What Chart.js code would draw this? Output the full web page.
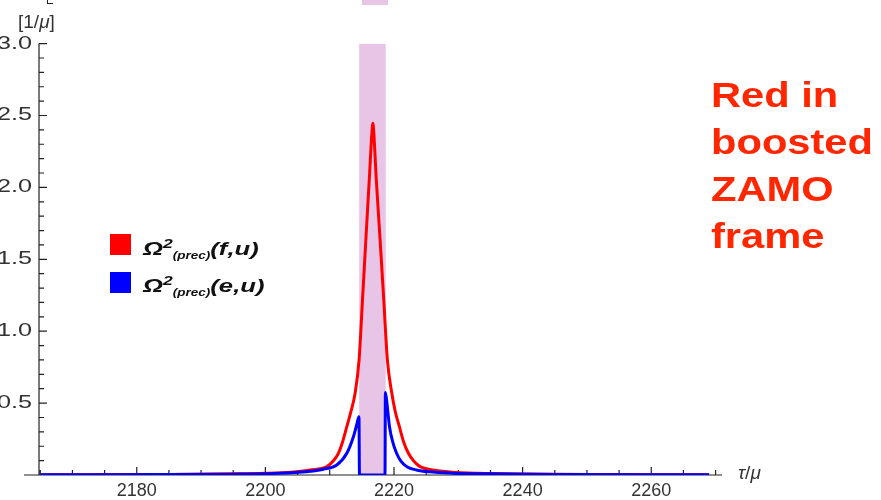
<!DOCTYPE html>
<html>
<head>
<meta charset="utf-8">
<script src="https://cdn.jsdelivr.net/npm/chart.js@4.4.1/dist/chart.umd.min.js"></script>
<style>
  body { margin: 0; background: #fff; }
  #wrap {
    position: relative; width: 881px; height: 500px; overflow: hidden;
    font-family: "Liberation Sans", Arial, sans-serif;
  }
  #precChart { position: absolute; left: 0; top: 0; }
  .abs { position: absolute; white-space: nowrap; }
  .swatch { position: absolute; width: 21px; height: 21px; }
  .legtext {
    position: absolute; font-size: 19px; line-height: 19px; font-weight: bold;
    font-style: italic; color: #111; transform: scaleX(1.35); transform-origin: left center;
  }
  .legtext .sup { font-size: 13px; vertical-align: 7px; }
  .legtext .sub { font-size: 10px; vertical-align: -4px; }
  #note {
    position: absolute; left: 711px; top: 71px; font-size: 35px; line-height: 47px;
    font-weight: bold; color: rgb(255, 38, 0); transform: scaleX(1.19); transform-origin: left top;
  }
</style>
</head>
<body>
<div id="wrap">
  <canvas id="precChart" width="881" height="500"></canvas>

  <div class="abs" style="left:362px; top:0; width:26px; height:5px; background:rgb(232,196,230);"></div>
  <div class="abs" style="left:47px; top:0; width:5px; height:3px; border-left:1px solid #222; border-bottom:1px solid #222;"></div>

  <div class="abs" style="left:18px; top:11px; font-size:19px; color:#333;">[1/<i>μ</i>]</div>
  <div class="abs" style="left:738px; top:462px; font-size:19px; color:#333;"><i>τ</i>/<i>μ</i></div>

  <div class="swatch" style="left:110px; top:234px; background:#ff0000;"></div>
  <div class="legtext" style="left:143px; top:234px;">Ω<span class="sup">2</span><span class="sub">(prec)</span>(f,u)</div>
  <div class="swatch" style="left:110px; top:272px; background:#0000ff;"></div>
  <div class="legtext" style="left:143px; top:271px;">Ω<span class="sup">2</span><span class="sub">(prec)</span>(e,u)</div>

  <div id="note">Red in<br>boosted<br>ZAMO<br>frame</div>
</div>

<script>
// proper time tau/mu and precession frequency squared, f-frame (red)
const tauRed = [2165, 2185, 2195, 2200, 2204, 2207, 2209.55, 2210.5, 2211.35, 2212.0, 2212.66,
  2213.3, 2213.95, 2214.57, 2215.08, 2215.62, 2216.18, 2216.52, 2216.72, 2216.9, 2217.22,
  2217.84, 2218.43, 2218.97, 2219.66, 2220.2, 2220.84, 2221.5, 2222.24, 2223.1, 2224.06,
  2226, 2229, 2233, 2240, 2250, 2269];
const redVals = [0.002, 0.004, 0.008, 0.012, 0.02, 0.035, 0.058, 0.095, 0.151, 0.23, 0.336,
  0.44, 0.568, 0.8, 1.2, 1.634, 2.074, 2.35, 2.446, 2.35, 2.074,
  1.634, 1.2, 0.8, 0.568, 0.44, 0.336, 0.23, 0.151, 0.095, 0.058,
  0.035, 0.02, 0.012, 0.007, 0.004, 0.002];

// e-frame (blue), vanishes inside the shaded interval
const tauBlue = [2165, 2185, 2195, 2200, 2204, 2207, 2209, 2211.1, 2212.66, 2213.69, 2214.2,
  2214.55, 2214.63, 2218.6, 2218.66, 2218.9, 2219.3, 2219.8, 2220.4, 2221.1, 2222.0,
  2223.5, 2225.5, 2229, 2235, 2245, 2269];
const blueVals = [0.001, 0.003, 0.006, 0.009, 0.015, 0.026, 0.04, 0.07, 0.151, 0.266, 0.35,
  0.405, 0, 0, 0.574, 0.5, 0.336, 0.23, 0.151, 0.095, 0.058,
  0.035, 0.022, 0.013, 0.008, 0.004, 0.002];

const shadeRange = [2214.57, 2218.73];
const shadeTop = 3.0;

const xTicks = [2180, 2200, 2220, 2240, 2260];
const yTicks = [0.5, 1.0, 1.5, 2.0, 2.5, 3.0];

const toPoints = (xs, ys) => xs.map((t, i) => ({ x: t, y: ys[i] }));

// Mathematica-style axes: ticks inside, x axis running a little past the y axis
const axesPlugin = {
  id: 'mmaAxes',
  beforeDatasetsDraw(chart) {
    const { ctx, scales: { x, y } } = chart;
    const x0 = x.left;
    const y0 = y.getPixelForValue(0);
    ctx.save();
    ctx.strokeStyle = '#222';
    ctx.lineWidth = 1.2;
    ctx.beginPath();
    ctx.moveTo(24, y0);
    ctx.lineTo(x.right, y0);
    ctx.moveTo(x0, y.getPixelForValue(3));
    ctx.lineTo(x0, y0);
    for (let t = 2165; t <= 2270; t += 5) {
      const px = x.getPixelForValue(t);
      const len = t % 20 === 0 ? 8 : 5;
      ctx.moveTo(px, y0);
      ctx.lineTo(px, y0 - len);
    }
    for (let k = 1; k <= 30; k++) {
      const py = y.getPixelForValue(k / 10);
      const len = k % 5 === 0 ? 8 : 5;
      ctx.moveTo(x0, py);
      ctx.lineTo(x0 + len, py);
    }
    ctx.stroke();

    // y labels come out wide in this figure, so stretch them
    ctx.fillStyle = '#333';
    ctx.font = '18px "Liberation Sans", Arial, sans-serif';
    ctx.textAlign = 'right';
    ctx.textBaseline = 'middle';
    yTicks.forEach(v => {
      ctx.save();
      ctx.translate(x0 - 7, y.getPixelForValue(v));
      ctx.scale(1.4, 1);
      ctx.fillText(v.toFixed(1), 0, 0);
      ctx.restore();
    });
    ctx.restore();
  }
};

new Chart(document.getElementById('precChart'), {
  type: 'line',
  data: {
    datasets: [
      {
        label: 'shade',
        data: toPoints(shadeRange, [shadeTop, shadeTop]),
        borderWidth: 0,
        pointRadius: 0,
        fill: 'origin',
        backgroundColor: 'rgb(232,196,230)',
        order: 3
      },
      {
        label: 'f,u',
        data: toPoints(tauRed, redVals),
        borderColor: '#ff0000',
        borderWidth: 3,
        pointRadius: 0,
        fill: false,
        cubicInterpolationMode: 'monotone',
        order: 2
      },
      {
        label: 'e,u',
        data: toPoints(tauBlue, blueVals),
        borderColor: '#0000ff',
        borderWidth: 3,
        pointRadius: 0,
        fill: false,
        cubicInterpolationMode: 'monotone',
        order: 1
      }
    ]
  },
  options: {
    responsive: false,
    animation: false,
    devicePixelRatio: 1,
    layout: { padding: { left: 0, top: 43.6, right: 159, bottom: 0 } },
    plugins: { legend: { display: false }, tooltip: { enabled: false } },
    scales: {
      x: {
        type: 'linear',
        min: 2164.8,
        max: 2271,
        grid: { display: false },
        border: { display: false },
        afterBuildTicks: scale => { scale.ticks = xTicks.map(v => ({ value: v })); },
        afterFit: scale => { scale.height = 25; },
        ticks: {
          autoSkip: false,
          maxRotation: 0,
          padding: -3,
          color: '#333',
          font: { size: 18, family: '"Liberation Sans", Arial, sans-serif' },
          callback: v => String(v)
        }
      },
      y: {
        min: 0,
        max: 3,
        grid: { display: false },
        border: { display: false },
        afterFit: scale => { scale.width = 39; },
        ticks: { display: false }
      }
    }
  },
  plugins: [axesPlugin]
});
</script>
</body>
</html>
